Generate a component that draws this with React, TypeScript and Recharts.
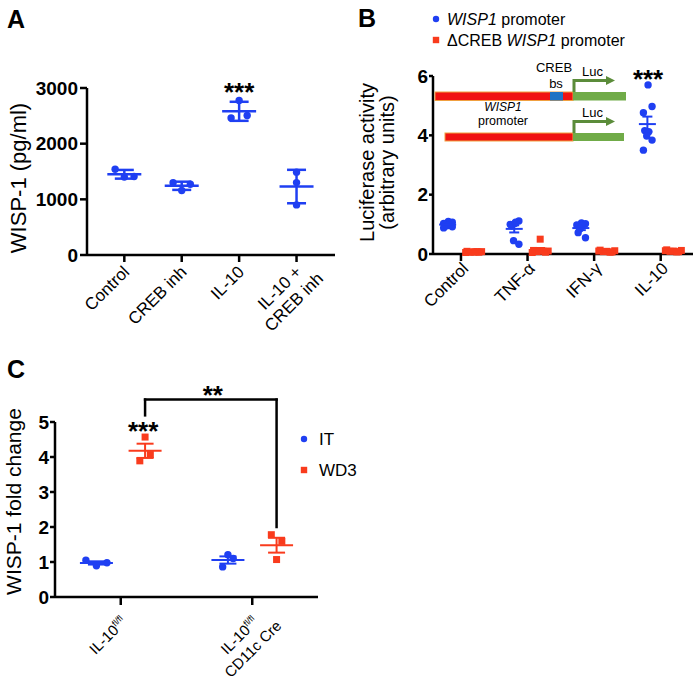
import React from 'react';
import {
  ScatterChart, Scatter, XAxis, YAxis, ErrorBar, ReferenceDot, ReferenceLine, Legend,
} from 'recharts';

const FONT = '"Liberation Sans", Arial, Helvetica, sans-serif';
const BLUE = '#1f3ff2';
const RED = '#f93b1d';
const INK = '#000';

// ---- panel A: WISP-1 (pg/ml), mean +/- SD
const groupsA = ['Control', 'CREB inh', 'IL-10', 'IL-10 +\nCREB inh'];
const controlA = [1540, 1400, 1410];
const crebInhA = [1300, 1160, 1270];
const il10A = [2777, 2460, 2507];
const il10CrebInhA = [1488, 1301, 900];
const ticksA = [0, 1000, 2000, 3000];

// ---- panel B: luciferase activity, mean +/- SEM
const groupsB = ['Control', 'TNF-α', 'IFN-γ', 'IL-10'];
const wispControlB = [1.10, 1.07, 1.03, 1.00, 0.98, 0.95, 0.92, 0.88];
const wispTnfB = [1.03, 1.11, 1.00, 0.94, 1.07, 0.45, 0.33];
const wispIfnB = [1.05, 1.02, 0.98, 0.72, 0.95, 0.85, 0.55];
const wispIl10B = [5.70, 4.97, 4.76, 4.16, 4.12, 3.98, 3.84, 3.50];
const dcrebControlB = [0.09, 0.08, 0.07, 0.06, 0.06, 0.05, 0.08, 0.07];
const dcrebTnfB = [0.12, 0.10, 0.50, 0.08, 0.06, 0.05, 0.09];
const dcrebIfnB = [0.13, 0.11, 0.09, 0.08, 0.07, 0.10, 0.06];
const dcrebIl10B = [0.14, 0.12, 0.10, 0.09, 0.08, 0.11, 0.07];
const ticksB = [0, 2, 4, 6];

// ---- panel C: WISP-1 fold change, mean +/- SEM
const groupsC = ['IL-10^fl/fl', 'IL-10^fl/fl\nCD11c Cre'];
const itFlC = [1.05, 0.89, 0.98];
const itCreC = [0.86, 1.21, 1.10];
const wd3FlC = [3.89, 4.57, 4.07];
const wd3CreC = [1.78, 1.07, 1.59];
const ticksC = [0, 1, 2, 3, 4, 5];

// horizontal scatter of the dots inside a group (category units)
const JIT_A = [[-0.16, 0, 0.17], [-0.15, 0, 0.15], [0, -0.14, 0.14], [0, 0, 0]];
const JIT_B_BLUE = [0.01, 0.07, -0.06, -0.04, 0.02, -0.01, 0.07, -0.06];
const JIT_B_RED = [-0.1, 0.12, 0.0, -0.05, 0.08, -0.12, 0.05, 0.02];
const JIT_C_IT = [[-0.08, 0, 0.08], [-0.04, 0, 0.04]];
const JIT_C_WD = [[-0.04, 0, 0.04], [-0.04, 0, 0.04]];

const mean = (v: number[]) => v.reduce((a, b) => a + b, 0) / v.length;
const sd = (v: number[]) => {
  const m = mean(v);
  return Math.sqrt(v.reduce((a, b) => a + (b - m) ** 2, 0) / (v.length - 1));
};
const sem = (v: number[]) => sd(v) / Math.sqrt(v.length);

const points = (groups: number[][], shift: number, jit: (g: number, i: number) => number) =>
  groups.flatMap((vals, g) => vals.map((y, i) => ({ x: g + shift + jit(g, i), y })));
const summary = (groups: number[][], shift: number, err: (v: number[]) => number) =>
  groups.map((vals, g) => ({ x: g + shift, y: mean(vals), err: err(vals) }));

const dot = (color: string, r: number) => (p: any) => <circle cx={p.cx} cy={p.cy} r={r} fill={color} />;
const square = (color: string, s: number) => (p: any) =>
  <rect x={p.cx - s / 2} y={p.cy - s / 2} width={s} height={s} fill={color} />;
const meanTick = (color: string, w: number, sw: number) => (p: any) =>
  <line x1={p.cx - w / 2} x2={p.cx + w / 2} y1={p.cy} y2={p.cy} stroke={color} strokeWidth={sw} />;
const stars = (label: string, size: number) => (p: any) => (
  <text x={p.cx} y={p.cy + size * 0.575} textAnchor="middle" fontSize={size} fontWeight="bold"
    fontFamily={FONT} fill={INK}>{label}</text>
);

let ctx: CanvasRenderingContext2D | null = null;
const measure = (s: string, size: number) => {
  if (!ctx) ctx = document.createElement('canvas').getContext('2d');
  if (!ctx) return s.length * size * 0.55;
  ctx.font = `${size}px ${FONT}`;
  return ctx.measureText(s).width;
};
const lineWidth = (line: string, size: number) => {
  const [main, sup] = line.split('^');
  return measure(main, size) + (sup ? measure(sup, size * 0.6) : 0);
};

// rotated category label; first line right-aligned at the anchor, others centred on it
const makeTick = (labels: string[], size: number, dx: number, dy: number, lh: number) => (p: any) => {
  const lines = (labels[p.payload.value] ?? '').split('\n');
  const c = -lineWidth(lines[0], size) / 2;
  const ax = p.x + dx;
  const ay = p.y + dy;
  return (
    <g transform={`translate(${ax},${ay}) rotate(-45)`}>
      {lines.map((ln, i) => {
        const [main, sup] = ln.split('^');
        return (
          <text key={i} x={c} y={i * lh} textAnchor="middle" fontSize={size} fontFamily={FONT} fill={INK}>
            {main}
            {sup && <tspan fontSize={size * 0.6} dy={-size * 0.4}>{sup}</tspan>}
          </text>
        );
      })}
    </g>
  );
};

const yTitle = (lines: string[], cx: number, cy: number, size: number, lh: number) => () => (
  <text transform={`translate(${cx},${cy}) rotate(-90)`} textAnchor="middle" fontSize={size}
    fontFamily={FONT} fill={INK} dominantBaseline="central">
    {lines.map((l, i) => (
      <tspan key={i} x={0} y={(i - (lines.length - 1) / 2) * lh}>{l}</tspan>
    ))}
  </text>
);

const rich = (s: string) => s.split('_').map((part, i) =>
  <tspan key={i} fontStyle={i % 2 ? 'italic' : 'normal'}>{part}</tspan>);

const legendBox = (o: any) => (props: any) => {
  const items = (props.payload || []).filter((e: any) => e.type !== 'none');
  return (
    <svg width={o.w} height={o.h} style={{ display: 'block' }}>
      {items.map((e: any, i: number) => {
        const cy = o.y0 + i * o.gap;
        return (
          <g key={i}>
            {e.type === 'square'
              ? <rect x={o.x - o.r} y={cy - o.r} width={o.r * 2} height={o.r * 2} fill={e.color} />
              : <circle cx={o.x} cy={cy} r={o.r} fill={e.color} />}
            <text x={o.tx} y={cy + o.base} fontSize={o.size} fontFamily={FONT} fill={INK}>{rich(String(e.value))}</text>
          </g>
        );
      })}
    </svg>
  );
};

const axisLine = { stroke: INK, strokeWidth: 2.5 };
const yTick = { fontSize: 19, fontWeight: 'bold', fill: INK, fontFamily: FONT };

function PanelA() {
  const groups = [controlA, crebInhA, il10A, il10CrebInhA];
  const pts = points(groups, 0, (g, i) => JIT_A[g][i]);
  const sum = summary(groups, 0, sd);
  return (
    <ScatterChart width={350} height={340} margin={{ top: 88, right: 15, bottom: 5, left: 0 }}>
      <XAxis type="number" dataKey="x" domain={[-0.65, 3.67]} ticks={[0, 1, 2, 3]} interval={0}
        height={80} tickSize={7} tickMargin={0} axisLine={axisLine} tickLine={axisLine}
        tick={makeTick(groupsA, 17, 6, 11, 20)} />
      <YAxis type="number" dataKey="y" domain={[0, 3000]} ticks={ticksA} interval={0} width={87}
        tickSize={7} tickMargin={2} axisLine={axisLine} tickLine={axisLine} tick={yTick}
        label={yTitle(['WISP-1 (pg/ml)'], 17.5, 178, 22, 0)} />
      <Scatter data={pts} fill={BLUE} shape={dot(BLUE, 3.7)} legendType="none" isAnimationActive={false} />
      <Scatter data={sum} fill={BLUE} shape={meanTick(BLUE, 34, 2.5)} legendType="none" isAnimationActive={false}>
        <ErrorBar dataKey="err" direction="y" width={9.5} stroke={BLUE} strokeWidth={2.5} />
      </Scatter>
      <ReferenceDot x={2} y={3030} r={0} ifOverflow="visible" shape={stars('***', 26)} />
    </ScatterChart>
  );
}

function PanelB() {
  const wisp = [wispControlB, wispTnfB, wispIfnB, wispIl10B];
  const dcreb = [dcrebControlB, dcrebTnfB, dcrebIfnB, dcrebIl10B];
  return (
    <ScatterChart width={349} height={340} margin={{ top: 76, right: 6, bottom: 6, left: 0 }}>
      <XAxis type="number" dataKey="x" domain={[-0.42, 3.485]} ticks={[0, 1, 2, 3]} interval={0}
        height={80} tickSize={7} tickMargin={0} axisLine={axisLine} tickLine={axisLine}
        angle={-45} textAnchor="end" tickFormatter={(v: number) => groupsB[v]}
        tick={{ fontSize: 17, fill: INK, fontFamily: FONT }} />
      <YAxis type="number" dataKey="y" domain={[0, 6]} ticks={ticksB} interval={0} width={83}
        tickSize={4} tickMargin={1} axisLine={axisLine} tickLine={axisLine} tick={yTick}
        label={yTitle(['Luciferase activity', '(arbitrary units)'], 26.5, 162.5, 20, 20)} />
      <Legend layout="vertical" align="center" verticalAlign="middle"
        wrapperStyle={{ left: 75, top: 5, width: 300, height: 60 }}
        content={legendBox({ w: 300, h: 60, x: 11, y0: 14, gap: 21, tx: 22, base: 6, size: 16, r: 3.2 })} />
      <Scatter name="_WISP1_ promoter" data={points(wisp, -0.2, (g, i) => JIT_B_BLUE[i])} fill={BLUE}
        legendType="circle" shape={dot(BLUE, 3.7)} isAnimationActive={false} />
      <Scatter name="ΔCREB _WISP1_ promoter" data={points(dcreb, 0.19, (g, i) => JIT_B_RED[i])} fill={RED}
        legendType="square" shape={square(RED, 7)} isAnimationActive={false} />
      <Scatter data={summary(wisp, -0.2, sem)} fill={BLUE} shape={meanTick(BLUE, 17, 2)} legendType="none" isAnimationActive={false}>
        <ErrorBar dataKey="err" direction="y" width={5} stroke={BLUE} strokeWidth={2} />
      </Scatter>
      <Scatter data={summary(dcreb, 0.19, sem)} fill={RED} shape={meanTick(RED, 17, 2)} legendType="none" isAnimationActive={false}>
        <ErrorBar dataKey="err" direction="y" width={5} stroke={RED} strokeWidth={2} />
      </Scatter>
      <ReferenceDot x={2.81} y={6.11} r={0} ifOverflow="visible" shape={stars('***', 26)} />
    </ScatterChart>
  );
}

function PanelC() {
  const it = [itFlC, itCreC];
  const wd3 = [wd3FlC, wd3CreC];
  const bx0 = 0.185, bx1 = 1.185, top = 5.64;
  const br = { stroke: INK, strokeWidth: 2.5, strokeLinecap: 'square' as const, ifOverflow: 'visible' as const };
  return (
    <ScatterChart width={420} height={352} margin={{ top: 82, right: 102, bottom: 15, left: 0 }}>
      <XAxis type="number" dataKey="x" domain={[-0.5, 1.5]} ticks={[0, 1]} interval={0}
        height={80} tickSize={8} tickMargin={0} axisLine={axisLine} tickLine={axisLine}
        tick={makeTick(groupsC, 15, 7, 18, 19)} />
      <YAxis type="number" dataKey="y" domain={[0, 5]} ticks={ticksC} interval={0} width={55}
        tickSize={5} tickMargin={1} axisLine={axisLine} tickLine={axisLine} tick={yTick}
        label={yTitle(['WISP-1 fold change'], 13, 161.5, 21, 0)} />
      <Legend layout="vertical" align="center" verticalAlign="middle"
        wrapperStyle={{ left: 290, top: 80, width: 100, height: 70 }}
        content={legendBox({ w: 100, h: 70, x: 14, y0: 19, gap: 31, tx: 29, base: 6, size: 17, r: 3.2 })} />
      <Scatter name="IT" data={points(it, -0.185, (g, i) => JIT_C_IT[g][i])} fill={BLUE}
        legendType="circle" shape={dot(BLUE, 3.7)} isAnimationActive={false} />
      <Scatter name="WD3" data={points(wd3, 0.185, (g, i) => JIT_C_WD[g][i])} fill={RED}
        legendType="square" shape={square(RED, 7)} isAnimationActive={false} />
      <Scatter data={summary(it, -0.185, sem)} fill={BLUE} shape={meanTick(BLUE, 33, 2)} legendType="none" isAnimationActive={false}>
        <ErrorBar dataKey="err" direction="y" width={8.5} stroke={BLUE} strokeWidth={2} />
      </Scatter>
      <Scatter data={summary(wd3, 0.185, sem)} fill={RED} shape={meanTick(RED, 33, 2)} legendType="none" isAnimationActive={false}>
        <ErrorBar dataKey="err" direction="y" width={8.5} stroke={RED} strokeWidth={2} />
      </Scatter>
      <ReferenceLine segment={[{ x: bx0, y: 5.19 }, { x: bx0, y: top }]} {...br} />
      <ReferenceLine segment={[{ x: bx0, y: top }, { x: bx1, y: top }]} {...br} />
      <ReferenceLine segment={[{ x: bx1, y: top }, { x: bx1, y: 2.0 }]} {...br} />
      <ReferenceDot x={0.17} y={4.9} r={0} ifOverflow="visible" shape={stars('***', 26)} />
      <ReferenceDot x={0.7} y={5.95} r={0} ifOverflow="visible" shape={stars('**', 26)} />
    </ScatterChart>
  );
}

// promoter-luciferase construct sketch inside panel B
function Construct() {
  const g = '#5b8c3a';
  const t = { fontSize: 13, fontFamily: FONT, fill: INK };
  const arrow = (y: number) => (
    <g>
      <path d={`M574 ${y} V${y - 11.5} H607`} stroke={g} strokeWidth={3} fill="none" />
      <polygon points={`606,${y - 16} 615,${y - 11.5} 606,${y - 7}`} fill={g} />
    </g>
  );
  return (
    <g>
      <rect x={435} y={92} width={138} height={8.5} fill="#f01212" stroke="#f0a040" strokeWidth={1} />
      <rect x={550} y={92} width={13} height={8.5} fill="#1f72c4" />
      <rect x={573} y={92} width={53} height={8.5} fill="#70ab48" />
      {arrow(92)}
      <text x={582} y={76} {...t}>Luc</text>
      <text x={554} y={72} textAnchor="middle" {...t}>CREB</text>
      <text x={556} y={87.5} textAnchor="middle" {...t}>bs</text>
      <rect x={445} y={133} width={128} height={8} fill="#f01212" stroke="#f0a040" strokeWidth={1} />
      <rect x={573} y={133} width={51} height={8} fill="#70ab48" />
      {arrow(133)}
      <text x={582} y={117} {...t}>Luc</text>
      <text x={503} y={111} textAnchor="middle" fontStyle="italic" {...t} fontSize={12}>WISP1</text>
      <text x={503} y={125} textAnchor="middle" {...t} fontSize={12.5}>promoter</text>
    </g>
  );
}

export default function App() {
  const letter = { fontSize: 25, fontWeight: 'bold' as const, fontFamily: FONT, fill: INK };
  return (
    <div style={{ position: 'absolute', left: 0, top: 0, width: 699, height: 692, background: '#fff' }}>
      <div style={{ position: 'absolute', left: 0, top: 0 }}><PanelA /></div>
      <div style={{ position: 'absolute', left: 350, top: 0 }}><PanelB /></div>
      <div style={{ position: 'absolute', left: 0, top: 340 }}><PanelC /></div>
      <svg width={699} height={692} style={{ position: 'absolute', left: 0, top: 0, pointerEvents: 'none' }}>
        <text x={7} y={28} {...letter}>A</text>
        <text x={358} y={27} {...letter}>B</text>
        <text x={7} y={378} {...letter}>C</text>
        <Construct />
      </svg>
    </div>
  );
}
